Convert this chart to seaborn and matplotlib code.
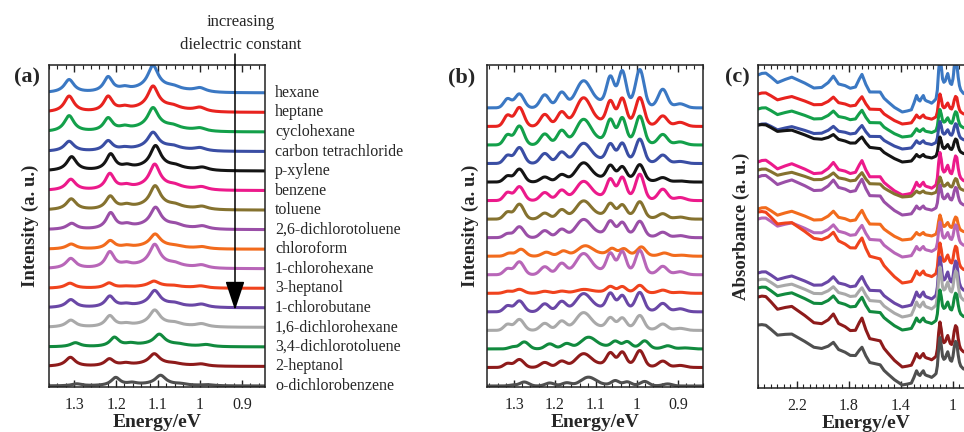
import numpy as np
import pandas as pd
import matplotlib
matplotlib.use("Agg")
import matplotlib.pyplot as plt
import seaborn as sns
from matplotlib.ticker import MultipleLocator, FixedLocator, FuncFormatter
from matplotlib.transforms import blended_transform_factory

# solvents, top to bottom (increasing dielectric constant)
solvents = ["hexane", "heptane", "cyclohexane", "carbon tetrachloride", "p-xylene",
            "benzene", "toluene", "2,6-dichlorotoluene", "chloroform", "1-chlorohexane",
            "3-heptanol", "1-chlorobutane", "1,6-dichlorohexane", "3,4-dichlorotoluene",
            "2-heptanol", "o-dichlorobenzene"]
colors = ["#3b78c3", "#e8231f", "#13a04a", "#3a4ea4", "#141414", "#ec1a8b",
          "#85722f", "#9a4fa7", "#f26b1d", "#b866b8", "#f0431d", "#6a47a6",
          "#a9a9a9", "#118a3e", "#8e1b1b", "#4f4f4f"]

# (a) emission peaks: position (eV), half width (eV), height per solvent
peaks_a = [1.312, 1.219, 1.180, 1.112, 1.064, 1.000]
hwhm_a = [0.014, 0.013, 0.014, 0.015, 0.016, 0.017]
heights_a = [
    [13, 15, 3, 22, 2, 4], [16, 15, 3, 21, 2, 4], [16, 13, 3, 19, 2, 3],
    [10, 10, 2, 15, 2, 3], [14, 16, 3, 21, 2, 3], [11, 16, 3, 22, 2, 3],
    [11, 13, 3, 20, 2, 3], [6, 16, 3, 18, 2, 3], [5, 8, 2, 12, 1, 2],
    [10, 16, 3, 20, 2, 3], [5, 5, 1, 5, 1, 2], [8, 11, 2, 14, 2, 3],
    [7, 11, 2, 14, 2, 3], [4, 9, 2, 10, 1, 2], [9, 7, 2, 10, 1, 2],
    [2, 8, 2, 9, 1, 1]]
bg_a = [5, 5, 5, 4, 4, 4, 4, 4, 3, 4, 2, 3, 3, 2.5, 2.5, 1.5]
shift_a = [0, 0, 0, 0, -0.006, -0.004, -0.005, -0.006, -0.005, -0.004,
           -0.002, -0.004, -0.004, -0.015, -0.003, -0.018]

# (b) emission peaks
peaks_b = [1.316, 1.287, 1.225, 1.184, 1.131, 1.065, 1.036, 0.993, 0.937, 0.895]
sigma_b = [0.009, 0.011, 0.011, 0.011, 0.018, 0.009, 0.009, 0.010, 0.011, 0.013]
heights_b = [
    [9, 14, 13, 15, 24, 25, 31, 35, 18, 4], [11, 19, 12, 14, 26, 20, 23, 26, 10, 4],
    [10, 19, 11, 14, 23, 20, 22, 26, 10, 3], [8, 16, 10, 11, 18, 15, 16, 22, 8, 2],
    [6, 13, 5, 7, 17, 12, 11, 15, 4, 1], [8, 14, 8, 10, 17, 17, 19, 24, 11, 3],
    [7, 15, 6, 9, 16, 11, 10, 15, 5, 2], [4, 11, 7, 8, 16, 12, 11, 14, 5, 2],
    [3, 7, 4, 5, 9, 5, 5, 8, 3, 1], [6, 13, 8, 11, 19, 17, 19, 22, 8, 3],
    [2, 4, 2, 2, 3, 5, 5, 7, 3, 1], [6, 11, 8, 10, 16, 14, 12, 17, 8, 3],
    [6, 11, 7, 9, 16, 9, 9, 13, 6, 2], [2, 7, 5, 5, 10, 5, 5, 7, 3, 1],
    [4, 8, 5, 6, 12, 11, 12, 15, 6, 2], [1, 4, 3, 3, 8, 4, 3, 4, 2, 0]]
bg_b = [7, 6, 6, 5, 5, 5, 5, 5, 3, 5, 2, 5, 4, 3, 4, 1.5]
shift_b = [0, 0, 0, 0, 0, 0, 0, 0, -0.004, 0, 0, 0, 0, -0.012, 0, -0.012]

# (c) absorbance: shape
energy_c = [2.50, 2.47, 2.44, 2.40, 2.35, 2.29, 2.24, 2.19, 2.14, 2.07, 2.01, 1.96,
            1.92, 1.88, 1.83, 1.79, 1.75, 1.72, 1.70, 1.67, 1.64, 1.60, 1.56, 1.53,
            1.50, 1.45, 1.39, 1.35, 1.32, 1.30, 1.28, 1.265, 1.254, 1.24, 1.228,
            1.215, 1.202, 1.18, 1.164, 1.145, 1.13, 1.12, 1.11, 1.10, 1.09, 1.08,
            1.07, 1.06, 1.05, 1.04, 1.03, 1.02, 1.01, 1.00, 0.99, 0.98, 0.97, 0.96,
            0.95, 0.94, 0.92, 0.90, 0.87, 0.84]
shape_c = [0, 2, 3, 1, -2, 2, 5, 4, 3, 1, 3, 8, 14, 9, 9, 8, 10, 17, 21, 14, 9, 10,
           11, 7, 5, 2, 0, 1, 2, 8, 15, 11, 10, 13, 15, 11, 10, 9, 8, 10, 12, 20,
           38, 50, 42, 30, 27, 28, 32, 35, 30, 26, 25, 30, 40, 46, 44, 32, 24, 20,
           17, 16, 15, 15]
left_c = [313, 294, 279, 263, 263, 226, 218, 211, 179, 169, 176, 115, 108, 100, 91, 63]
dip_c = [276, 264, 251, 239, 226, 193, 191, 173, 148, 131, 105, 81, 71, 58, 21, 3]
wave_c = [1.3, 0.9, 0.9, 0.8, 0.7, 1.2, 0.8, 1.2, 1.0, 1.0, 1.2, 1.0, 0.9, 1.0, 1.4, 1.0]
sharp_c = [1.1, 0.6, 0.55, 0.55, 0.5, 0.85, 0.4, 0.6, 0.5, 0.7, 0.8, 1.0, 1.0, 0.8, 0.9, 0.95]

step_a = 19.6
step_b = 18.6

sns.set_theme(style="ticks")
plt.rcParams["font.family"] = ["Liberation Serif", "DejaVu Serif"]
plt.rcParams["axes.linewidth"] = 1.1
plt.rcParams["axes.edgecolor"] = "#222222"

# build long tables
E = np.linspace(1.37, 0.83, 500)
rows = []
for i, s in enumerate(solvents):
    y = (15 - i) * step_a + bg_a[i] * np.exp(-((E - 1.1) / 0.075) ** 2)
    for p, w, h in zip(peaks_a, hwhm_a, heights_a[i]):
        y = y + h * w ** 2 / ((E - p - shift_a[i]) ** 2 + w ** 2)
    rows.append(pd.DataFrame({"E": E, "I": y, "solvent": s}))
df_a = pd.concat(rows, ignore_index=True)

rows = []
for i, s in enumerate(solvents):
    y = (15 - i) * step_b + bg_b[i] * np.exp(-((E - 1.06) / 0.08) ** 2)
    for p, w, h in zip(peaks_b, sigma_b, heights_b[i]):
        y = y + h * np.exp(-0.5 * ((E - p - shift_b[i]) / w) ** 2)
    rows.append(pd.DataFrame({"E": E, "I": y, "solvent": s}))
df_b = pd.concat(rows, ignore_index=True)

ec = np.array(energy_c)
sc = np.array(shape_c, dtype=float)
above = ec >= 1.39
rows = []
for i, s in enumerate(solvents):
    trend = np.where(above, left_c[i] + (dip_c[i] - left_c[i]) * (2.5 - ec) / (2.5 - 1.39), dip_c[i])
    y = trend + np.where(above, wave_c[i], sharp_c[i]) * sc
    rows.append(pd.DataFrame({"E": ec, "I": y, "solvent": s}))
df_c = pd.concat(rows, ignore_index=True)

fig = plt.figure(figsize=(9.64, 4.32), dpi=100)
W, H = 964, 432


def px_axes(x0, x1, y0, y1):
    return fig.add_axes([x0 / W, 1 - y1 / H, (x1 - x0) / W, (y1 - y0) / H])


ax_a = px_axes(49, 265, 65, 387)
ax_b = px_axes(487, 703, 65, 387)
ax_c = px_axes(758, 974, 65, 388)

fmt = FuncFormatter(lambda v, pos: f"{v:g}")
for ax, df in [(ax_a, df_a), (ax_b, df_b), (ax_c, df_c)]:
    sns.lineplot(data=df, x="E", y="I", hue="solvent", hue_order=solvents,
                 palette=colors, estimator=None, sort=False, legend=False,
                 lw=2.2, ax=ax)
    ax.set_yticks([])
    ax.set_ylabel("")
    ax.set_xlabel("Energy/eV", fontsize=14, fontweight="bold", labelpad=1)
    ax.tick_params(axis="x", which="both", direction="in", top=True, bottom=True,
                   labelsize=11.5, pad=7, colors="#222222")
    ax.tick_params(axis="x", which="major", length=5, width=1)
    ax.tick_params(axis="x", which="minor", length=3, width=0.8)
    ax.xaxis.set_major_formatter(fmt)

ax_a.set_xlim(1.36, 0.845)
ax_a.set_ylim(-1, 322)
ax_a.xaxis.set_major_locator(MultipleLocator(0.1))
ax_a.xaxis.set_minor_locator(MultipleLocator(0.02))

ax_b.set_xlim(1.366, 0.839)
ax_b.set_ylim(-1, 322)
ax_b.xaxis.set_major_locator(MultipleLocator(0.1))
ax_b.xaxis.set_minor_locator(MultipleLocator(0.02))

ax_c.set_xlim(2.5, 0.838)
ax_c.set_ylim(0, 323)
ax_c.xaxis.set_major_locator(FixedLocator([2.2, 1.8, 1.4, 1.0]))
ax_c.xaxis.set_minor_locator(MultipleLocator(0.05))

# solvent names beside panel (a)
tr = blended_transform_factory(ax_a.transAxes, ax_a.transData)
for i, s in enumerate(solvents):
    ax_a.text(1.046, (15 - i) * step_a, s, transform=tr, ha="left", va="center",
              fontsize=11.5, clip_on=False)

# y labels and panel letters
for x, lab in [(30, "Intensity (a. u.)"), (470, "Intensity (a. u.)"),
               (741, "Absorbance (a. u.)")]:
    fig.text(x / W, 1 - 226 / H, lab, rotation=90, ha="center", va="center",
             fontsize=13.5, fontweight="bold")
for x, lab in [(27, "(a)"), (462, "(b)"), (737, "(c)")]:
    fig.text(x / W, 1 - 77 / H, lab, ha="center", va="center", fontsize=16,
             fontweight="bold")

# arrow: increasing dielectric constant
fig.text(241 / W, 1 - 22 / H, "increasing", ha="center", va="center", fontsize=12)
fig.text(241 / W, 1 - 45 / H, "dielectric constant", ha="center", va="center", fontsize=12)
ax_a.annotate("", xy=(235 / W, 1 - 310 / H), xytext=(235 / W, 1 - 54 / H),
              xycoords="figure fraction", textcoords="figure fraction",
              arrowprops=dict(arrowstyle="-|>,head_length=0.9,head_width=0.3",
                              color="black", lw=1.1, mutation_scale=20,
                              shrinkA=0, shrinkB=0))

fig.savefig("out.png", dpi=100)
